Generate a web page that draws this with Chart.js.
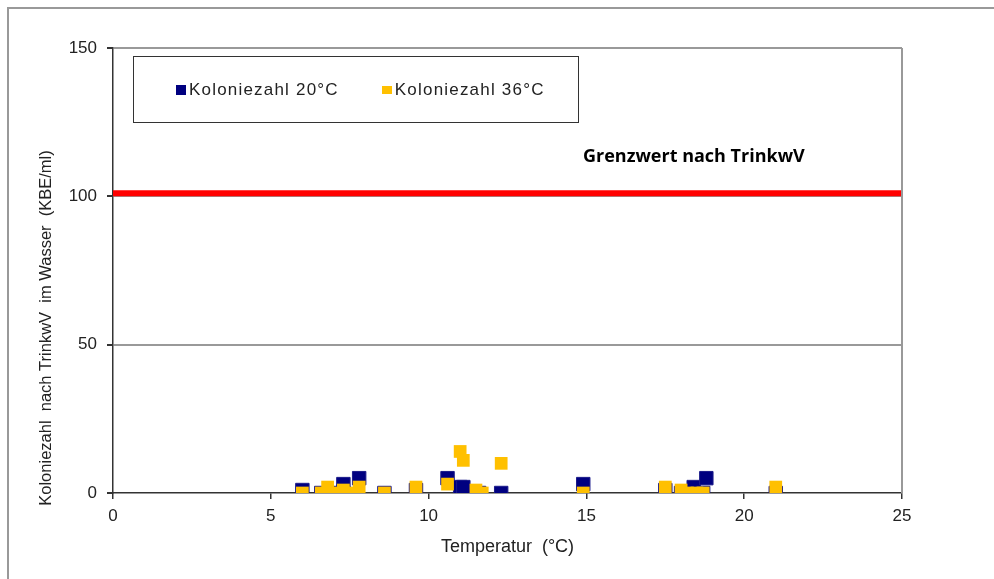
<!DOCTYPE html>
<html>
<head>
<meta charset="utf-8">
<script src="https://cdn.jsdelivr.net/npm/chart.js@4"></script>
<style>
  html, body { margin: 0; padding: 0; background: #fff; }
  #wrap { position: relative; width: 994px; height: 579px; }
  #legendBox {
    position: absolute; left: 133px; top: 56px; width: 446px; height: 67px;
    border: 1px solid #333; box-sizing: border-box;
    font-family: "Liberation Sans", Arial, sans-serif; font-size: 17px; letter-spacing: 1.2px; color: #222;
    display: flex; align-items: center; padding-left: 42px; white-space: nowrap;
  }
  .item { display: flex; align-items: center; margin-right: 43px; flex-shrink: 0; white-space: nowrap; }
  .sw { width: 10px; height: 10px; margin-right: 3px; flex-shrink: 0; }
  #limitLabel {
    position: absolute; left: 583px; top: 143px; white-space: nowrap;
    font-family: "Open Sans", sans-serif; font-weight: bold; font-size: 18px; color: #000;
  }
</style>
</head>
<body>
<div id="wrap">
  <canvas id="chart" width="994" height="579"></canvas>
  <div id="legendBox"></div>
  <div id="limitLabel">Grenzwert nach TrinkwV</div>
</div>
<script>
// data (temperature in °C, colony count in KBE/ml)
const temp20 = [6.0, 6.6, 7.0, 7.3, 7.3, 7.8, 8.6, 9.6, 10.6, 11.0, 11.1, 11.6, 12.3, 14.9, 17.5, 18.0, 18.4, 18.7, 18.8, 21.0];
const count20 = [1, 0, 0, 3, 0, 5, 0, 1, 5, 2, 2, 0, 0, 3, 1, 0, 2, 0, 5, 0];
const temp36 = [6.0, 6.6, 6.8, 7.0, 7.3, 7.5, 7.8, 8.6, 9.6, 10.6, 11.0, 11.1, 11.5, 11.7, 12.3, 14.9, 17.5, 18.0, 18.2, 18.5, 18.7, 21.0];
const count36 = [0, 0, 2, 0, 1, 0, 2, 0, 2, 3, 14, 11, 1, 0, 10, 0, 2, 1, 0, 0, 0, 2];
const seriesNames = ['Koloniezahl 20°C', 'Koloniezahl 36°C'];
const seriesColors = ['#000080', '#FFC000'];
const limitX = [0, 25];
const limitY = [101, 101];
const xTicks = [0, 5, 10, 15, 20, 25];
const yTicks = [0, 50, 100, 150];
const yTitle = 'Koloniezahl  nach TrinkwV  im Wasser  (KBE/ml)';

const toPoints = (xs, ys) => xs.map((x, i) => ({ x, y: ys[i] }));

// legend as plain html box
const legendBox = document.getElementById('legendBox');
seriesNames.forEach((name, i) => {
  const it = document.createElement('div');
  it.className = 'item';
  const h = i === 0 ? 10 : 8;
  it.innerHTML = `<span class="sw" style="background:${seriesColors[i]};height:${h}px"></span>${name}`;
  legendBox.appendChild(it);
});

const font = { family: '"Liberation Sans", Arial, sans-serif', size: 17 };

// outer frame, right border of plot area, y title (sits lower than the axis centre)
const framePlugin = {
  id: 'frame',
  beforeDraw(chart) {
    const c = chart.ctx;
    c.save();
    c.strokeStyle = '#999';
    c.lineWidth = 2;
    c.beginPath();
    c.moveTo(8, 579); c.lineTo(8, 8); c.lineTo(994, 8);
    c.stroke();
    c.translate(46, 328);
    c.rotate(-Math.PI / 2);
    c.font = '16.5px "Liberation Sans", Arial, sans-serif';
    c.fillStyle = '#222';
    c.textAlign = 'center';
    c.textBaseline = 'middle';
    c.fillText(yTitle, 0, 0);
    c.restore();
  },
  afterDatasetsDraw(chart) {
    const { top, bottom, right } = chart.chartArea;
    const c = chart.ctx;
    c.save();
    c.strokeStyle = '#999';
    c.lineWidth = 2;
    c.beginPath();
    c.moveTo(right, top); c.lineTo(right, bottom);
    c.stroke();
    c.restore();
  }
};

new Chart(document.getElementById('chart'), {
  type: 'scatter',
  data: {
    datasets: [
      {
        label: seriesNames[0],
        data: toPoints(temp20, count20),
        backgroundColor: seriesColors[0],
        borderColor: '#1a1a8a',
        borderWidth: 1,
        pointStyle: 'rect',
        pointRadius: 9.5,
        order: 2
      },
      {
        label: seriesNames[1],
        data: toPoints(temp36, count36),
        backgroundColor: seriesColors[1],
        borderColor: seriesColors[1],
        borderWidth: 0,
        pointStyle: 'rect',
        pointRadius: 9,
        order: 1
      },
      {
        type: 'line',
        label: 'Grenzwert',
        data: toPoints(limitX, limitY),
        borderColor: '#FF0000',
        borderWidth: 6,
        pointRadius: 0,
        order: 3
      }
    ]
  },
  options: {
    responsive: false,
    animation: false,
    layout: { padding: { top: 48, right: 92, left: 0, bottom: 0 } },
    plugins: { legend: { display: false }, tooltip: { enabled: false } },
    scales: {
      x: {
        type: 'linear', min: 0, max: 25,
        afterBuildTicks: s => { s.ticks = xTicks.map(v => ({ value: v })); },
        afterFit: s => { s.height = 86; },
        grid: { drawOnChartArea: false, tickLength: 6, color: '#333', lineWidth: 1.5 },
        border: { color: '#333', width: 1.5 },
        ticks: { font, color: '#222', padding: 7, maxRotation: 0 },
        title: { display: true, text: 'Temperatur  (°C)', font: { ...font, size: 18 }, color: '#222', padding: { top: 0, bottom: 21 } }
      },
      y: {
        min: 0, max: 150,
        afterBuildTicks: s => { s.ticks = yTicks.map(v => ({ value: v })); },
        afterFit: s => { s.width = 113; },
        grid: {
          tickLength: 6, lineWidth: 2,
          color: ctx => ctx.tick && ctx.tick.value === 0 ? 'rgba(0,0,0,0)' : '#999',
          tickColor: '#333'
        },
        border: { color: '#333', width: 1.5 },
        ticks: { font, color: '#222', padding: 10 },
        title: { display: false }
      }
    }
  },
  plugins: [framePlugin]
});
</script>
</body>
</html>
